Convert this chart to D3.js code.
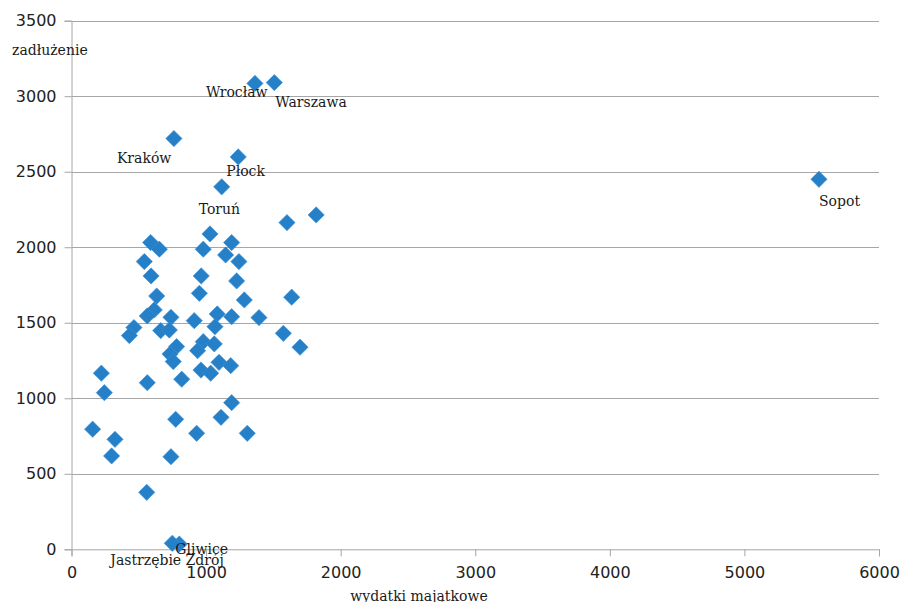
<!DOCTYPE html>
<html>
<head>
<meta charset="utf-8">
<script src="https://cdn.jsdelivr.net/npm/d3@7/dist/d3.min.js"></script>
<style>
  html, body { margin: 0; padding: 0; background: #ffffff; }
  svg { display: block; }
</style>
</head>
<body>
<svg id="chart" width="902" height="602"></svg>
<script>
// ---- data ----
const cities = ["Wrocław", "Warszawa", "Kraków", "Płock", "Toruń", "Sopot", "Gliwice", "Jastrzębie Zdrój",
  "", "", "", "", "", "", "", "", "", "", "", "", "", "", "", "", "", "", "", "", "", "", "", "", "", "", "", "", "",
  "", "", "", "", "", "", "", "", "", "", "", "", "", "", "", "", "", "", "", "", "", "", "", "", "", "", ""];
const spending = [1363, 1507, 761, 1239, 1116, 5554, 801, 749,
  1818, 1601, 1029, 588, 653, 979, 1190, 1145, 1244, 541, 591, 964, 1227, 633, 950, 1284, 1636, 615, 563, 739, 912,
  1083, 1190, 1393, 464, 430, 663, 727, 1066, 1574, 1698, 781, 979, 1061, 937, 732, 756, 1096, 1183, 962, 1034, 819,
  563, 222, 244, 1190, 1111, 774, 157, 323, 930, 1306, 298, 739, 559];
const debt = [3085, 3090, 2720, 2598, 2400, 2450, 35, 40,
  2214, 2163, 2088, 2031, 1987, 1987, 2031, 1949, 1905, 1905, 1810, 1810, 1777, 1677, 1695, 1651, 1669, 1585, 1545, 1536, 1514,
  1558, 1540, 1534, 1468, 1415, 1448, 1452, 1474, 1430, 1338, 1342, 1375, 1360, 1315, 1293, 1243, 1238, 1216, 1187, 1166, 1126,
  1103, 1166, 1037, 971, 874, 861, 795, 728, 768, 768, 618, 613, 377];
const xTicks = [0, 1000, 2000, 3000, 4000, 5000, 6000];
const yTicks = [0, 500, 1000, 1500, 2000, 2500, 3000, 3500];
const xTitle = "wydatki majątkowe";
const yTitle = "zadłużenie";

// ---- styling: label offsets relative to the marker (px) ----
const labelOffset = {
  "Wrocław": [-49, 14],
  "Warszawa": [1, 24],
  "Kraków": [-57, 24],
  "Płock": [-12, 19],
  "Toruń": [-23, 27],
  "Sopot": [0, 27],
  "Gliwice": [-4, 10],
  "Jastrzębie Zdrój": [-62, 22]
};

const points = spending.map((s, i) => ({ x: s, y: debt[i], name: cities[i] }));

const svg = d3.select("#chart");
const x = d3.scaleLinear().domain([0, 6000]).range([71.5, 879]);
const y = d3.scaleLinear().domain([0, 3500]).range([549.3, 20.7]);
const gridColor = "#a6a6a6";

// y axis ticks
const yAxis = d3.axisLeft(y).tickValues(yTicks).tickSize(7).tickPadding(8).tickFormat(d3.format("d"));
const gy = svg.append("g").attr("transform", `translate(${x(0)},0)`).call(yAxis);
gy.select(".domain").attr("stroke", gridColor);
gy.selectAll(".tick line").attr("stroke", gridColor);
gy.selectAll(".tick text").attr("font-family", "DejaVu Sans, sans-serif").attr("font-size", 16).attr("fill", "#222");

// horizontal gridlines
svg.append("g").selectAll("line").data(yTicks.filter(v => v > 0)).join("line")
  .attr("x1", x(0)).attr("x2", x(6000))
  .attr("y1", d => Math.round(y(d)) + 0.5).attr("y2", d => Math.round(y(d)) + 0.5)
  .attr("stroke", gridColor).attr("stroke-width", 1);

// x axis
const xAxis = d3.axisBottom(x).tickValues(xTicks).tickSize(7).tickPadding(10).tickFormat(d3.format("d"));
const gx = svg.append("g").attr("transform", `translate(0,${y(0)})`).call(xAxis);
gx.select(".domain").attr("stroke", gridColor);
gx.selectAll(".tick line").attr("stroke", gridColor);
gx.selectAll(".tick text").attr("font-family", "DejaVu Sans, sans-serif").attr("font-size", 16).attr("fill", "#222");

// markers
const diamond = d3.symbol().type(d3.symbolSquare).size(132);
svg.append("g").selectAll("path").data(points).join("path")
  .attr("d", diamond)
  .attr("transform", d => `translate(${x(d.x)},${y(d.y)}) rotate(45)`)
  .attr("fill", "#2680C8")
  .attr("stroke", "#3a8ed4")
  .attr("stroke-width", 0.6);

// data labels
svg.append("g").selectAll("text").data(points.filter(d => d.name)).join("text")
  .attr("x", d => x(d.x) + labelOffset[d.name][0])
  .attr("y", d => y(d.y) + labelOffset[d.name][1])
  .attr("font-family", "DejaVu Serif, serif")
  .attr("font-size", 14)
  .attr("fill", "#1a1a1a")
  .text(d => d.name);

// axis titles
svg.append("text").attr("x", 12).attr("y", 55)
  .attr("font-family", "DejaVu Serif, serif").attr("font-size", 14).attr("fill", "#1a1a1a")
  .text(yTitle);
svg.append("text").attr("x", 419).attr("y", 601).attr("text-anchor", "middle")
  .attr("font-family", "DejaVu Serif, serif").attr("font-size", 14).attr("fill", "#1a1a1a")
  .text(xTitle);
</script>
</body>
</html>
